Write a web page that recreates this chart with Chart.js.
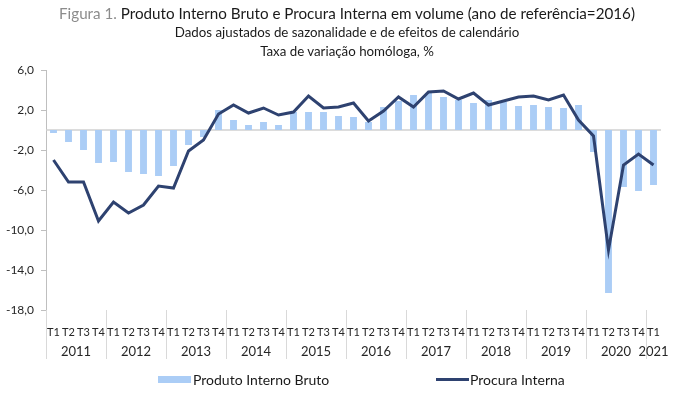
<!DOCTYPE html>
<html>
<head>
<meta charset="utf-8">
<script src="https://cdn.jsdelivr.net/npm/chart.js@4.4.1/dist/chart.umd.min.js"></script>
<style>
  body { margin: 0; background: #fff; font-family: Lato, "Liberation Sans", sans-serif; }
  #wrap { position: relative; width: 680px; height: 397px; overflow: hidden; }
  #chart { position: absolute; left: 0; top: 0; }
  .ttl { position: absolute; left: 0; width: 694px; text-align: center; white-space: nowrap; color: #1a1a1a; }
  #t1 { top: 4px; font-size: 15.2px; }
  #t1 span { color: #8c8c8c; }
  #t2 { top: 24px; font-size: 13.3px; }
  #t3 { top: 43px; font-size: 13.3px; }
  .lg { position: absolute; top: 371px; font-size: 14px; color: #1a1a1a; white-space: nowrap; }
  .sw { position: absolute; }
</style>
</head>
<body>
<div id="wrap">
  <canvas id="chart" width="680" height="397"></canvas>
  <div class="ttl" id="t1"><span>Figura 1.</span> Produto Interno Bruto e Procura Interna em volume (ano de referência=2016)</div>
  <div class="ttl" id="t2">Dados ajustados de sazonalidade e de efeitos de calendário</div>
  <div class="ttl" id="t3">Taxa de variação homóloga, %</div>
  <div class="sw" style="left:158px; top:376px; width:33px; height:7px; background:#abcdf6;"></div>
  <div class="lg" style="left:193px;">Produto Interno Bruto</div>
  <div class="sw" style="left:436px; top:378px; width:33px; height:3px; background:#2e4270;"></div>
  <div class="lg" style="left:470px;">Procura Interna</div>
</div>
<script>
// quarters (2011 T1 .. 2021 T1)
const quarters = [
  'T1','T2','T3','T4', 'T1','T2','T3','T4', 'T1','T2','T3','T4', 'T1','T2','T3','T4',
  'T1','T2','T3','T4', 'T1','T2','T3','T4', 'T1','T2','T3','T4', 'T1','T2','T3','T4',
  'T1','T2','T3','T4', 'T1','T2','T3','T4', 'T1'
];
const years = ['2011','2012','2013','2014','2015','2016','2017','2018','2019','2020','2021'];

// Produto Interno Bruto (bars)
const pib = [
  -0.3, -1.2, -2.0, -3.3,
  -3.2, -4.2, -4.4, -4.6,
  -3.6, -1.5, -0.7, 2.0,
  1.0, 0.5, 0.8, 0.5,
  1.8, 1.8, 1.8, 1.4,
  1.3, 0.8, 2.3, 2.9,
  3.5, 3.7, 3.3, 3.0,
  2.7, 3.0, 2.8, 2.4,
  2.5, 2.3, 2.2, 2.5,
  -2.2, -16.3, -5.7, -6.1,
  -5.5
];

// Procura Interna (line)
const procura = [
  -3.0, -5.2, -5.2, -9.1,
  -7.2, -8.3, -7.5, -5.6,
  -5.8, -2.1, -1.0, 1.6,
  2.5, 1.7, 2.2, 1.5,
  1.8, 3.4, 2.2, 2.3,
  2.7, 0.9, 1.9, 3.3,
  2.3, 3.8, 3.9, 3.1,
  3.7, 2.5, 2.9, 3.3,
  3.4, 3.0, 3.5, 1.0,
  -0.6, -12.0, -3.5, -2.4,
  -3.5
];

const yTicks = [6, 2, -2, -6, -10, -14, -18];

const FONT = 'Lato, "Liberation Sans", sans-serif';

// zero line + year groups under the axis
const extras = {
  id: 'extras',
  beforeDatasetsDraw(chart) {
    const { ctx, chartArea, scales } = chart;
    const y0 = scales.y.getPixelForValue(0);
    ctx.save();
    ctx.strokeStyle = '#d0d0d0';
    ctx.lineWidth = 1.5;
    ctx.beginPath();
    ctx.moveTo(chartArea.left, y0);
    ctx.lineTo(chartArea.right, y0);
    ctx.stroke();
    ctx.restore();
  },
  afterDraw(chart) {
    const { ctx, chartArea, scales } = chart;
    const x = scales.x;
    const half = (x.getPixelForValue(1) - x.getPixelForValue(0)) / 2;
    ctx.save();
    ctx.strokeStyle = '#d9d9d9';
    ctx.lineWidth = 1;
    ctx.fillStyle = '#262626';
    ctx.font = '13px ' + FONT;
    ctx.textAlign = 'center';
    ctx.textBaseline = 'middle';
    years.forEach(function(yr, i) {
      const first = i * 4;
      const last = Math.min(first + 3, quarters.length - 1);
      const left = x.getPixelForValue(first) - half;
      ctx.beginPath();
      ctx.moveTo(Math.round(left) + 0.5, chartArea.bottom);
      ctx.lineTo(Math.round(left) + 0.5, chartArea.bottom + 49);
      ctx.stroke();
      const cx = (x.getPixelForValue(first) + x.getPixelForValue(last)) / 2;
      ctx.fillText(yr, cx, chartArea.bottom + 42);
    });
    ctx.restore();
  }
};

const ctx = document.getElementById('chart').getContext('2d');
const chart = new Chart(ctx, {
  data: {
    labels: quarters,
    datasets: [
      {
        type: 'line',
        label: 'Procura Interna',
        data: procura,
        borderColor: '#2e4270',
        borderWidth: 3,
        pointRadius: 0,
        tension: 0,
        fill: false,
        order: 0
      },
      {
        type: 'bar',
        label: 'Produto Interno Bruto',
        data: pib,
        backgroundColor: '#abcdf6',
        barPercentage: 0.46,
        categoryPercentage: 1,
        order: 1
      }
    ]
  },
  options: {
    responsive: false,
    animation: false,
    layout: { padding: { top: 70, right: 19, left: 0, bottom: 0 } },
    plugins: {
      legend: { display: false },
      title: { display: false },
      tooltip: { enabled: false }
    },
    scales: {
      x: {
        type: 'category',
        offset: true,
        grid: { display: false },
        border: { display: false },
        ticks: {
          autoSkip: false,
          maxRotation: 0,
          padding: 8,
          color: '#262626',
          font: { family: FONT, size: 11 }
        },
        afterFit(scale) { scale.height = 87; }
      },
      y: {
        min: -18,
        max: 6,
        afterBuildTicks(scale) {
          scale.ticks = yTicks.map(function(v) { return { value: v }; });
        },
        grid: {
          drawOnChartArea: false,
          drawTicks: true,
          tickLength: 5,
          color: '#bfbfbf'
        },
        border: { display: true, color: '#bfbfbf', width: 1 },
        ticks: {
          padding: 7,
          color: '#262626',
          font: { family: FONT, size: 12 },
          callback: function(v) { return v.toFixed(1).replace('.', ','); }
        },
        afterFit(scale) { scale.width = 46; }
      }
    }
  },
  plugins: [extras]
});
</script>
</body>
</html>
